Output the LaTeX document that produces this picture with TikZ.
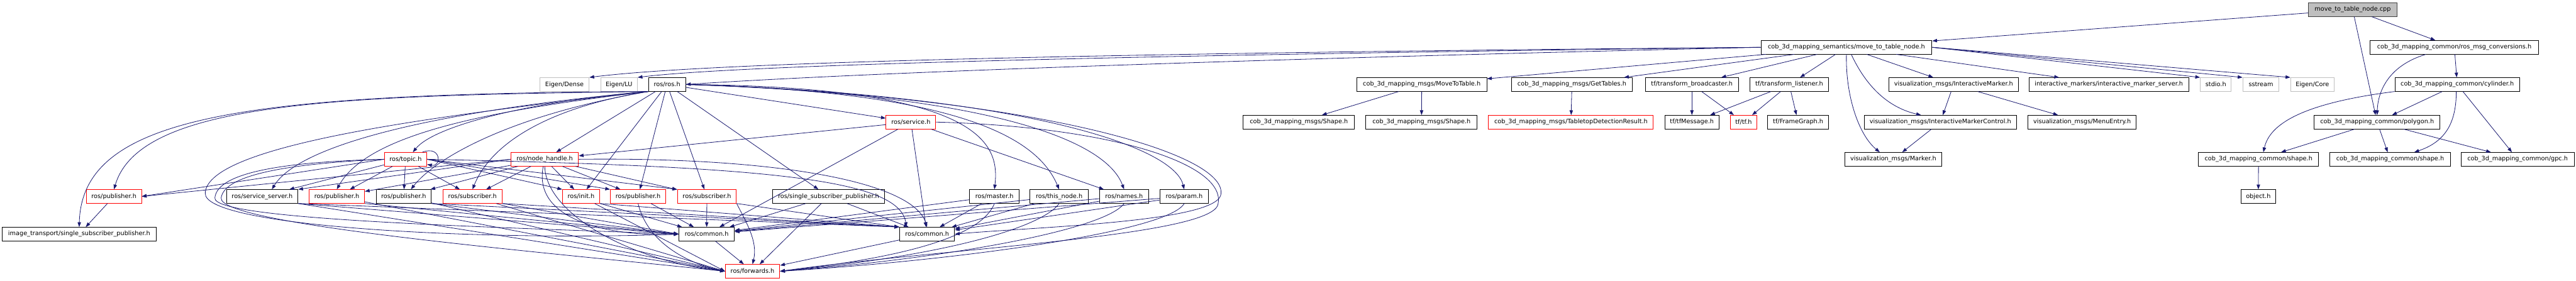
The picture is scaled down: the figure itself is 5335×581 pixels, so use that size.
\documentclass[tikz,border=0pt]{standalone}
\usepackage{fontspec}
\setmainfont{DejaVu Sans}
\usetikzlibrary{arrows.meta}
\definecolor{edgeblue}{RGB}{25,25,112}
\definecolor{extgray}{RGB}{191,191,191}
\tikzset{
  hdr/.style={draw=black, line width=0.35pt, inner sep=0pt, minimum height=0.28cm,
    font=\fontsize{3.6}{4.3}\selectfont},
  trunc/.style={hdr, draw=red},
  ext/.style={hdr, draw=extgray},
  root/.style={hdr, draw=black!75, fill=extgray},
  dep/.style={draw=edgeblue, line width=0.3pt, -{Triangle[length=2.8pt,width=2pt]}}
}
\begin{document}
\begin{tikzpicture}[x=0.01cm, y=-0.01cm]
    \useasboundingbox (0,0) rectangle (5335,581);
    % rows 0 -- 2
    \node[root, minimum width=1.83cm] (cpp) at (4872.5,20) {move\_to\_table\_node.cpp};
    \node[hdr, minimum width=3.54cm] (sem) at (3824,98) {cob\_3d\_mapping\_semantics/move\_to\_table\_node.h};
    \node[hdr, minimum width=3.48cm] (rmc) at (5083,98) {cob\_3d\_mapping\_common/ros\_msg\_conversions.h};
    \node[ext, minimum width=1.02cm] (edense) at (1169,175) {Eigen/Dense};
    \node[ext, minimum width=0.76cm] (elu) at (1282,175) {Eigen/LU};
    \node[hdr, minimum width=0.77cm] (ros) at (1381.5,175) {ros/ros.h};
    \node[hdr, minimum width=2.69cm] (mtt) at (2944.5,175) {cob\_3d\_mapping\_msgs/MoveToTable.h};
    \node[hdr, minimum width=2.51cm] (gt) at (3255.5,175) {cob\_3d\_mapping\_msgs/GetTables.h};
    \node[hdr, minimum width=1.92cm] (tfb) at (3504,175) {tf/transform\_broadcaster.h};
    \node[hdr, minimum width=1.63cm] (tfl) at (3705.5,175) {tf/transform\_listener.h};
    \node[hdr, minimum width=2.68cm] (vim) at (4046,175) {visualization\_msgs/InteractiveMarker.h};
    \node[hdr, minimum width=3.31cm] (ims) at (4367.5,175) {interactive\_markers/interactive\_marker\_server.h};
    \node[ext, minimum width=0.64cm] (stdio) at (4589,175) {stdio.h};
    \node[ext, minimum width=0.75cm] (sstream) at (4682.5,175) {sstream};
    \node[ext, minimum width=0.90cm] (ecore) at (4789,175) {Eigen/Core};
    \node[hdr, minimum width=2.58cm] (cyl) at (5089,175) {cob\_3d\_mapping\_common/cylinder.h};
    % rows 3 -- 4
    \node[trunc, minimum width=1.03cm] (service) at (1886.5,253) {ros/service.h};
    \node[hdr, minimum width=2.30cm] (shpA) at (2690,253) {cob\_3d\_mapping\_msgs/Shape.h};
    \node[hdr, minimum width=2.30cm] (shpB) at (2944,253) {cob\_3d\_mapping\_msgs/Shape.h};
    \node[trunc, minimum width=3.41cm] (tdr) at (3253.5,253) {cob\_3d\_mapping\_msgs/TabletopDetectionResult.h};
    \node[hdr, minimum width=1.12cm] (tfm) at (3504,253) {tf/tfMessage.h};
    \node[trunc, minimum width=0.54cm] (tftf) at (3611,253) {tf/tf.h};
    \node[hdr, minimum width=1.26cm] (fg) at (3724,253) {tf/FrameGraph.h};
    \node[hdr, minimum width=3.15cm] (vimc) at (4018.5,253) {visualization\_msgs/InteractiveMarkerControl.h};
    \node[hdr, minimum width=2.24cm] (menu) at (4312,253) {visualization\_msgs/MenuEntry.h};
    \node[hdr, minimum width=2.60cm] (poly) at (4923,253) {cob\_3d\_mapping\_common/polygon.h};
    \node[trunc, minimum width=0.88cm] (topic) at (840,330) {ros/topic.h};
    \node[trunc, minimum width=1.40cm] (nh) at (1128,330) {ros/node\_handle.h};
    \node[hdr, minimum width=2.00cm] (marker) at (3921,330) {visualization\_msgs/Marker.h};
    \node[hdr, minimum width=2.49cm] (cshA) at (4677.5,330) {cob\_3d\_mapping\_common/shape.h};
    \node[hdr, minimum width=2.50cm] (cshB) at (4950,330) {cob\_3d\_mapping\_common/shape.h};
    \node[hdr, minimum width=2.34cm] (gpc) at (5214,330) {cob\_3d\_mapping\_common/gpc.h};
    % rows 5 -- 7
    \node[trunc, minimum width=1.14cm] (pubA) at (236,407) {ros/publisher.h};
    \node[hdr, minimum width=1.48cm] (ssrv) at (543,407) {ros/service\_server.h};
    \node[trunc, minimum width=1.15cm] (pubB) at (697.5,407) {ros/publisher.h};
    \node[hdr, minimum width=1.14cm] (pubC) at (836,407) {ros/publisher.h};
    \node[trunc, minimum width=1.23cm] (subD) at (978.5,407) {ros/subscriber.h};
    \node[trunc, minimum width=0.77cm] (init) at (1203.5,407) {ros/init.h};
    \node[trunc, minimum width=1.15cm] (pubE) at (1321.5,407) {ros/publisher.h};
    \node[trunc, minimum width=1.22cm] (subF) at (1464,407) {ros/subscriber.h};
    \node[hdr, minimum width=2.32cm] (ssp) at (1716,407) {ros/single\_subscriber\_publisher.h};
    \node[hdr, minimum width=1.03cm] (master) at (2059.5,407) {ros/master.h};
    \node[hdr, minimum width=1.21cm] (thisn) at (2193.5,407) {ros/this\_node.h};
    \node[hdr, minimum width=1.02cm] (names) at (2328,407) {ros/names.h};
    \node[hdr, minimum width=1.01cm] (param) at (2452.5,407) {ros/param.h};
    \node[hdr, minimum width=0.72cm] (object) at (4677,407) {object.h};
    \node[hdr, minimum width=3.18cm] (imgt) at (164,485) {image\_transport/single\_subscriber\_publisher.h};
    \node[hdr, minimum width=1.15cm] (comA) at (1463.5,485) {ros/common.h};
    \node[hdr, minimum width=1.14cm] (comB) at (1920,485) {ros/common.h};
    \node[trunc, minimum width=1.13cm] (fwd) at (1558.5,562) {ros/forwards.h};

    % move_to_table_node.cpp and cob_3d_mapping_common
    \draw[dep] (cpp) -- (sem);
    \draw[dep] (cpp) -- (rmc);
    \draw[dep] (cpp) -- (poly);
    \draw[dep] ([xshift=-0.59cm]rmc.south) .. controls (4950,135) and (4925,185) .. (poly.north);
    \draw[dep] (rmc) -- (cyl);
    \draw[dep] (cyl.south west) .. controls (4760,215) and (4700,260) .. ([xshift=0.1cm]cshA.north);
    \draw[dep] (cyl) -- (poly);
    \draw[dep] ([xshift=-0.02cm]cyl.south) .. controls (5087,260) and (5060,295) .. ([xshift=0.5cm]cshB.north);
    \draw[dep] (cyl) -- (gpc);
    \draw[dep] (poly) -- (cshA);
    \draw[dep] (poly) -- (cshB);
    \draw[dep] (poly) -- (gpc);
    \draw[dep] (cshA) -- (object);

    % cob_3d_mapping_semantics/move_to_table_node.h
    \draw[dep] (sem.west) .. controls (2500,108) and (1500,125) .. (edense.north east);
    \draw[dep] (sem.west) .. controls (2500,112) and (1550,132) .. (elu.north east);
    \draw[dep] (sem.west) .. controls (2600,122) and (1800,150) .. (ros.east);
    \draw[dep] (sem) -- (mtt);
    \draw[dep] (sem) -- (gt);
    \draw[dep] (sem) -- (tfb);
    \draw[dep] (sem) -- (tfl);
    \draw[dep] (sem) -- (vim);
    \draw[dep] (sem) -- (ims);
    \draw[dep] (sem.east) -- (stdio.north west);
    \draw[dep] (sem.east) -- (sstream.north west);
    \draw[dep] (sem.east) -- (ecore.north west);
    \draw[dep] (sem.south) .. controls (3822,200) and (3850,280) .. ([xshift=-0.28cm]marker.north);
    \draw[dep] ([xshift=0.1cm]sem.south) .. controls (3870,190) and (3920,225) .. ([xshift=-0.4cm]vimc.north);
    \draw[dep] (mtt) -- (shpA);
    \draw[dep] (mtt) -- (shpB);
    \draw[dep] (gt) -- (tdr);
    \draw[dep] (tfb) -- (tfm);
    \draw[dep] (tfb) -- (tftf);
    \draw[dep] (tfl) -- (tfm);
    \draw[dep] (tfl) -- (tftf);
    \draw[dep] (tfl) -- (fg);
    \draw[dep] (vim) -- (vimc);
    \draw[dep] (vim) -- (menu);
    \draw[dep] (vimc) -- (marker);

    % ros/ros.h
    \draw[dep] (ros.south west) .. controls (700,198) and (290,210) .. (pubA.north);
    \draw[dep] (ros.south west) .. controls (500,194) and (170,240) .. (imgt.north);
    \draw[dep] (ros.south west) .. controls (900,240) and (430,300) .. (425,400) .. controls (420,470) and (1000,500) .. (comA.west);
    \draw[dep] (ros.south west) .. controls (900,230) and (620,300) .. ([xshift=0.2cm]ssrv.north);
    \draw[dep] (ros.south west) .. controls (1000,230) and (760,280) .. (pubB.north);
    \draw[dep] (ros.south west) .. controls (1100,210) and (900,260) .. ([xshift=0.15cm]topic.north);
    \draw[dep] (ros.south west) .. controls (1050,240) and (900,330) .. ([xshift=0.15cm]pubC.north);
    \draw[dep] (ros.south west) .. controls (1150,220) and (1020,290) .. (subD.north);
    \draw[dep] (ros) -- (nh);
    \draw[dep] (ros) -- (init);
    \draw[dep] (ros) -- (pubE);
    \draw[dep] (ros) -- (subF);
    \draw[dep] (ros) -- (ssp);
    \draw[dep] (ros) -- (service);
    \draw[dep] (ros.east) .. controls (2040,180) and (2070,300) .. (master.north);
    \draw[dep] (ros.east) .. controls (2000,190) and (2150,290) .. (thisn.north);
    \draw[dep] (ros.east) .. controls (2050,195) and (2290,290) .. (names.north);
    \draw[dep] (ros.east) .. controls (2100,195) and (2430,300) .. (param.north);
    \draw[dep] (ros.east) .. controls (2150,200) and (2550,320) .. (2528,405) .. controls (2510,460) and (2150,470) .. (comB.east);

    % ros/service.h
    \draw[dep] (service) -- (nh);
    \draw[dep] (service) -- (comA);
    \draw[dep] (service) -- (comB);
    \draw[dep] (service) -- (names);
    \draw[dep] (service.east) .. controls (2300,262) and (2545,340) .. (2522,425) .. controls (2500,490) and (1950,515) .. (fwd.east);

    % ros/topic.h
    \draw[dep] ([xshift=-0.1cm]topic.north east) .. controls +(40,-15) and +(30,6) .. ([yshift=0.04cm]topic.south east);
    \draw[dep] (topic.west) -- (pubA.east);
    \draw[dep] (topic) -- (ssrv);
    \draw[dep] (topic) -- (pubB);
    \draw[dep] (topic) -- (pubC);
    \draw[dep] (topic) -- (subD);
    \draw[dep] (topic.east) -- (init.north west);
    \draw[dep] (topic.east) -- (pubE.north west);
    \draw[dep] (topic.east) -- (subF.north west);
    \draw[dep] (topic.east) .. controls (1600,345) and (1862,372) .. ([xshift=0.15cm]comB.north west);
    \draw[dep] (topic.west) .. controls (600,335) and (450,355) .. (445,410) .. controls (440,455) and (1000,470) .. (comA.west);
    \draw[dep] (topic.west) .. controls (620,338) and (465,358) .. (458,410) .. controls (452,465) and (1100,520) .. (fwd.west);

    % ros/node_handle.h
    \draw[dep] (nh.west) -- (pubA.east);
    \draw[dep] (nh.west) -- (ssrv.north east);
    \draw[dep] (nh) -- (pubB);
    \draw[dep] (nh) -- (pubC);
    \draw[dep] (nh) -- (subD);
    \draw[dep] (nh) -- (init);
    \draw[dep] (nh) -- (pubE);
    \draw[dep] (nh) -- (subF);
    \draw[dep] (nh.east) .. controls (1600,325) and (1890,375) .. (comB.north);
    \draw[dep] (nh) .. controls (1130,440) and (1300,540) .. (fwd.west);
    \draw[dep] (nh) .. controls (1100,470) and (1300,490) .. (comA.west);

    % headers of row 5
    \draw[dep] (pubA) -- (imgt);
    \draw[dep] (ssrv.south east) -- (comA.west);
    \draw[dep] (ssrv.south east) -- (comB.north west);
    \draw[dep] (ssrv.south east) -- (fwd.west);
    \draw[dep] (pubB.south east) -- (comA.west);
    \draw[dep] (pubB) -- (fwd.west);
    \draw[dep] (pubC.south east) -- (comA.west);
    \draw[dep] (pubC.south east) -- (comB.north west);
    \draw[dep] (pubC) -- (fwd.west);
    \draw[dep] (subD.south east) -- (comA.west);
    \draw[dep] (subD.south east) -- (comB.north west);
    \draw[dep] (subD) -- (fwd.west);
    \draw[dep] (init.south east) -- (comA);
    \draw[dep] (init.south east) -- (comB.north west);
    \draw[dep] (init) -- (fwd.west);
    \draw[dep] (pubE) -- (comA);
    \draw[dep] (pubE.south) .. controls (1340,500) and (1420,545) .. (fwd.west);
    \draw[dep] (subF) -- (comA);
    \draw[dep] (subF.south east) -- (comB.north west);
    \draw[dep] (subF.south east) .. controls (1545,460) and (1570,500) .. (fwd.north);
    \draw[dep] (ssp) -- (comA);
    \draw[dep] (ssp) -- (comB);
    \draw[dep] (ssp) -- (fwd);
    \draw[dep] (master) -- (comA);
    \draw[dep] (master) -- (comB);
    \draw[dep] (master.south) .. controls (2040,470) and (1950,525) .. (fwd.east);
    \draw[dep] (thisn) -- (comA);
    \draw[dep] (thisn) -- (comB);
    \draw[dep] (thisn.south) .. controls (2160,470) and (1960,530) .. (fwd.east);
    \draw[dep] (names) -- (comA);
    \draw[dep] (names) -- (comB);
    \draw[dep] (names.south) .. controls (2290,475) and (1970,535) .. (fwd.east);
    \draw[dep] (param) -- (comA);
    \draw[dep] (param) -- (comB);
    \draw[dep] (param.south) .. controls (2420,480) and (1980,540) .. (fwd.east);
    \draw[dep] (comA) -- (fwd);
    \draw[dep] (comB) -- (fwd);
\end{tikzpicture}
\end{document}
